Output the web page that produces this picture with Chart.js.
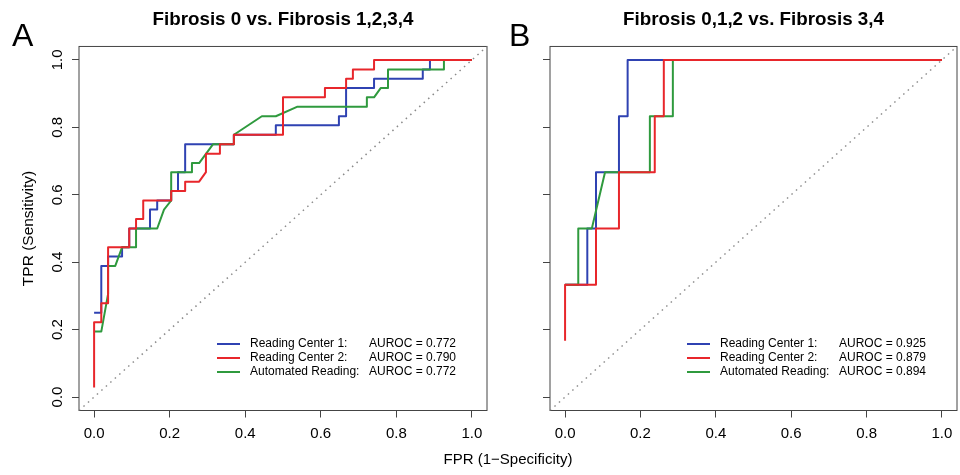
<!DOCTYPE html>
<html>
<head>
<meta charset="utf-8">
<script src="https://cdn.jsdelivr.net/npm/chart.js@4/dist/chart.umd.min.js"></script>
<style>
  body { margin: 0; background: #fff; }
  #wrap { position: relative; width: 960px; height: 475px; background: #fff;
          font-family: "Liberation Sans", Arial, Helvetica, sans-serif; color: #000; }
  .panel { position: absolute; top: 0; height: 475px; }
  .letter { position: absolute; top: 19px; font-size: 32px; line-height: 32px; }
  #xlab { position: absolute; left: 508px; top: 451px; font-size: 15px; line-height: 15px;
          transform: translateX(-50%); white-space: nowrap; }
</style>
</head>
<body>
<div id="wrap">
  <div class="panel" style="left:0;width:495px"><canvas id="chartA"></canvas></div>
  <div class="panel" style="left:495px;width:465px"><canvas id="chartB"></canvas></div>
  <div class="letter" style="left:12px">A</div>
  <div class="letter" style="left:509px">B</div>
  <div id="xlab">FPR (1−Specificity)</div>
</div>
<script>
// axes
const xTicks = [0, 0.2, 0.4, 0.6, 0.8, 1.0];
const yTicks = [0, 0.2, 0.4, 0.6, 0.8, 1.0];
const axisMin = -0.04, axisMax = 1.04;
const diagX = [axisMin, axisMax];
const diagY = [axisMin, axisMax];

const seriesNames = ['Reading Center 1:', 'Reading Center 2:', 'Automated Reading:'];
const seriesColors = ['#2f42b2', '#e8262b', '#2f9a3e'];

// Panel A - Fibrosis 0 vs. Fibrosis 1,2,3,4
const titleA = 'Fibrosis 0 vs. Fibrosis 1,2,3,4';
const aurocA = ['AUROC = 0.772', 'AUROC = 0.790', 'AUROC = 0.772'];
const rc1FprA = [0, 0.019, 0.019, 0.037, 0.037, 0.074, 0.074, 0.093, 0.093, 0.148, 0.148, 0.167, 0.167,
  0.204, 0.204, 0.222, 0.222, 0.241, 0.241, 0.370, 0.370, 0.481, 0.481, 0.648, 0.648, 0.667, 0.667,
  0.741, 0.741, 0.870, 0.870, 0.889, 0.889, 1];
const rc1TprA = [0.250, 0.250, 0.389, 0.389, 0.417, 0.417, 0.444, 0.444, 0.500, 0.500, 0.556, 0.556, 0.583,
  0.583, 0.611, 0.611, 0.667, 0.667, 0.750, 0.750, 0.778, 0.778, 0.806, 0.806, 0.833, 0.833, 0.917,
  0.917, 0.944, 0.944, 0.972, 0.972, 1, 1];
const rc2FprA = [0, 0, 0.019, 0.019, 0.037, 0.037, 0.093, 0.093, 0.111, 0.111, 0.130, 0.130, 0.204, 0.204,
  0.241, 0.241, 0.278, 0.296, 0.296, 0.333, 0.333, 0.370, 0.370, 0.500, 0.500, 0.611, 0.611, 0.667,
  0.667, 0.685, 0.685, 0.741, 0.741, 1];
const rc2TprA = [0.028, 0.222, 0.222, 0.278, 0.278, 0.444, 0.444, 0.500, 0.500, 0.528, 0.528, 0.583, 0.583,
  0.611, 0.611, 0.639, 0.639, 0.667, 0.722, 0.722, 0.750, 0.750, 0.778, 0.778, 0.889, 0.889, 0.917,
  0.917, 0.944, 0.944, 0.972, 0.972, 1, 1];
const autoFprA = [0, 0.019, 0.037, 0.037, 0.056, 0.074, 0.111, 0.111, 0.167, 0.185, 0.204, 0.204, 0.259,
  0.259, 0.278, 0.315, 0.370, 0.370, 0.444, 0.481, 0.537, 0.722, 0.722, 0.741, 0.759, 0.778, 0.778,
  0.926, 0.926, 1];
const autoTprA = [0.194, 0.194, 0.306, 0.389, 0.389, 0.444, 0.444, 0.500, 0.500, 0.556, 0.583, 0.667, 0.667,
  0.694, 0.694, 0.750, 0.750, 0.778, 0.833, 0.833, 0.861, 0.861, 0.889, 0.889, 0.917, 0.917, 0.972,
  0.972, 1, 1];

// Panel B - Fibrosis 0,1,2 vs. Fibrosis 3,4
const titleB = 'Fibrosis 0,1,2 vs. Fibrosis 3,4';
const aurocB = ['AUROC = 0.925', 'AUROC = 0.879', 'AUROC = 0.894'];
const rc1FprB = [0, 0.059, 0.059, 0.082, 0.082, 0.143, 0.143, 0.166, 0.166, 1];
const rc1TprB = [0.333, 0.333, 0.500, 0.500, 0.667, 0.667, 0.833, 0.833, 1, 1];
const rc2FprB = [0, 0, 0.082, 0.082, 0.143, 0.143, 0.238, 0.238, 0.262, 0.262, 1];
const rc2TprB = [0.167, 0.333, 0.333, 0.500, 0.500, 0.667, 0.667, 0.833, 0.833, 1, 1];
const autoFprB = [0, 0.035, 0.035, 0.071, 0.106, 0.225, 0.225, 0.286, 0.286, 1];
const autoTprB = [0.333, 0.333, 0.500, 0.500, 0.667, 0.667, 0.833, 0.833, 1, 1];

const FONT = '"Liberation Sans", Arial, Helvetica, sans-serif';
Chart.defaults.font.family = FONT;
Chart.defaults.color = '#000';

function toPoints(xs, ys) {
  return xs.map((x, i) => ({ x: x, y: ys[i] }));
}

// full box round the plot region, like R's box()
const rocBox = {
  id: 'rocBox',
  beforeDatasetsDraw(chart) {
    const { ctx, chartArea: a } = chart;
    ctx.save();
    ctx.strokeStyle = '#444';
    ctx.lineWidth = 1;
    ctx.strokeRect(a.left, a.top, a.right - a.left, a.bottom - a.top);
    ctx.restore();
  }
};

// legend with two text columns, bottom right inside the plot
const rocLegend = {
  id: 'rocLegend',
  afterDatasetsDraw(chart, args, opts) {
    const { ctx, chartArea: a } = chart;
    ctx.save();
    ctx.font = '12px ' + FONT;
    ctx.textBaseline = 'middle';
    seriesNames.forEach((name, i) => {
      const y = a.bottom - 66.5 + i * 14;
      ctx.strokeStyle = seriesColors[i];
      ctx.lineWidth = 2;
      ctx.beginPath();
      ctx.moveTo(a.right - 270, y);
      ctx.lineTo(a.right - 247, y);
      ctx.stroke();
      ctx.fillStyle = '#000';
      ctx.fillText(name, a.right - 237, y);
      ctx.fillText(opts.auroc[i], a.right - 118, y);
    });
    ctx.restore();
  }
};

function rocLine(label, pts, color, order) {
  return {
    label: label, data: pts, showLine: true, pointRadius: 0,
    borderColor: color, borderWidth: 2, borderJoinStyle: 'round', order: order
  };
}

function makeChart(id, p) {
  const tickFont = { size: 15 };
  const grid = { display: true, drawOnChartArea: false, drawTicks: true, tickLength: 7, color: '#444', lineWidth: 1 };
  return new Chart(document.getElementById(id), {
    type: 'scatter',
    data: {
      datasets: [
        rocLine(seriesNames[0], toPoints(p.rc1Fpr, p.rc1Tpr), seriesColors[0], 2),
        rocLine(seriesNames[1], toPoints(p.rc2Fpr, p.rc2Tpr), seriesColors[1], 0),
        rocLine(seriesNames[2], toPoints(p.autoFpr, p.autoTpr), seriesColors[2], 1),
        {
          label: 'chance', data: toPoints(diagX, diagY), showLine: true, pointRadius: 0,
          borderColor: '#8a8a8a', borderWidth: 1.5, borderDash: [1.5, 4.5], order: 3
        }
      ]
    },
    options: {
      responsive: true,
      maintainAspectRatio: false,
      animation: false,
      devicePixelRatio: 1,
      layout: { padding: { left: 0, right: p.padRight, top: 0, bottom: 0 } },
      scales: {
        x: {
          type: 'linear', min: axisMin, max: axisMax,
          afterBuildTicks: s => { s.ticks = xTicks.map(v => ({ value: v })); },
          afterFit: s => { s.height = 64.5; },
          ticks: { font: tickFont, padding: 7, maxRotation: 0, autoSkip: false, callback: v => v.toFixed(1) },
          grid: grid,
          border: { display: false }
        },
        y: {
          type: 'linear', min: axisMin, max: axisMax,
          afterBuildTicks: s => { s.ticks = yTicks.map(v => ({ value: v })); },
          afterFit: s => { s.width = p.yWidth; },
          ticks: {
            display: p.yLabels, font: tickFont, padding: 4, minRotation: 90, maxRotation: 90,
            crossAlign: 'center', autoSkip: false, callback: v => v.toFixed(1)
          },
          title: { display: p.yLabels, text: 'TPR (Sensitivity)', font: { size: 15.5 }, padding: { top: 19, bottom: 0 } },
          grid: grid,
          border: { display: false }
        }
      },
      plugins: {
        legend: { display: false },
        tooltip: { enabled: false },
        title: {
          display: true, text: p.title, fullSize: false, color: '#000',
          font: { size: 18.8, weight: 'bold' }, padding: { top: 8.5, bottom: 15.4 }
        },
        rocLegend: { auroc: p.auroc }
      }
    },
    plugins: [rocBox, rocLegend]
  });
}

makeChart('chartA', {
  title: titleA, auroc: aurocA, yWidth: 79, padRight: 8, yLabels: true,
  rc1Fpr: rc1FprA, rc1Tpr: rc1TprA, rc2Fpr: rc2FprA, rc2Tpr: rc2TprA, autoFpr: autoFprA, autoTpr: autoTprA
});
makeChart('chartB', {
  title: titleB, auroc: aurocB, yWidth: 55, padRight: 3, yLabels: false,
  rc1Fpr: rc1FprB, rc1Tpr: rc1TprB, rc2Fpr: rc2FprB, rc2Tpr: rc2TprB, autoFpr: autoFprB, autoTpr: autoTprB
});
</script>
</body>
</html>
